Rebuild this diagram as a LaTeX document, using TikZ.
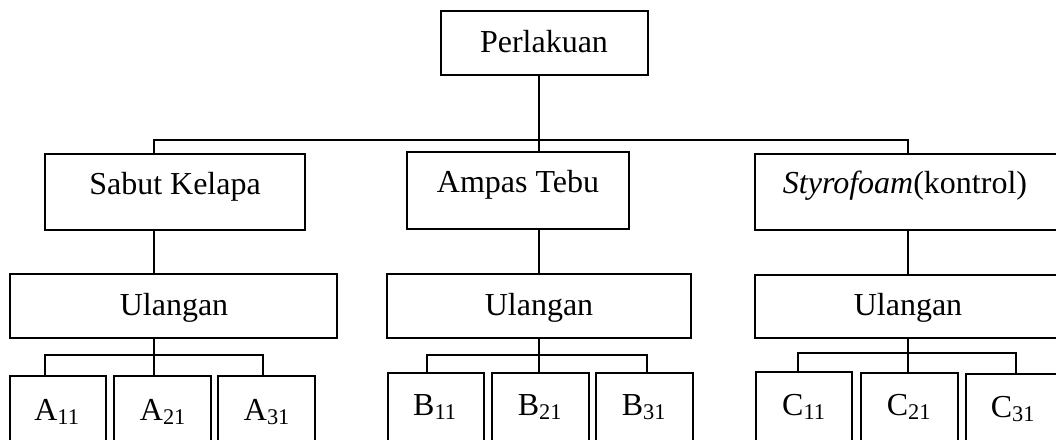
\documentclass[tikz,border=0pt]{standalone}
\usepackage{fontspec}
\setmainfont{Liberation Serif}
\usetikzlibrary{fit}
\begin{document}
\begin{tikzpicture}[x=0.75pt,y=-0.75pt,
  box/.style={draw,line width=1.8pt,inner sep=0pt,outer sep=0pt},
  lbl/.style={anchor=base,inner sep=0pt,font=\fontsize{24pt}{28pt}\selectfont},
  conn/.style={line width=1.2pt}]
\useasboundingbox (0,0) rectangle (1056,439);
\clip (0,0) rectangle (1056,439);
% boxes
\node[box,fit={(441,11) (648,75)}] (P) {};
\node[box,fit={(45,154) (305,230)}] (S) {};
\node[box,fit={(407,152) (629,229)}] (T) {};
\node[box,fit={(755,154) (1062,230)}] (St) {};
\node[box,fit={(10,274) (337,338)}] (UA) {};
\node[box,fit={(387,274) (691,338)}] (UB) {};
\node[box,fit={(755,275) (1062,338)}] (UC) {};
\node[box,fit={(10,376) (106,448)}] (A1) {};
\node[box,fit={(114,376) (211,448)}] (A2) {};
\node[box,fit={(218,376) (315,448)}] (A3) {};
\node[box,fit={(388,373) (484,448)}] (B1) {};
\node[box,fit={(492,373) (589,448)}] (B2) {};
\node[box,fit={(596,373) (693,448)}] (B3) {};
\node[box,fit={(756,372) (852,448)}] (C1) {};
\node[box,fit={(861,373) (958,448)}] (C2) {};
\node[box,fit={(966,374) (1062,448)}] (C3) {};
% texts
\node[lbl] (tP) at (544,52) {Perlakuan};
\node[lbl] (tS) at (175,194) {Sabut Kelapa};
\node[lbl] (tT) at (518,192) {Ampas Tebu};
\node[lbl] (tSt) at (905,193) {\textit{Styrofoam}(kontrol)};
\node[lbl] (tUA) at (174,315) {Ulangan};
\node[lbl] (tUB) at (539,315) {Ulangan};
\node[lbl] (tUC) at (908,315) {Ulangan};
\node[lbl] (tA1) at (57,420) {A\textsubscript{11}};
\node[lbl] (tA2) at (163,420) {A\textsubscript{21}};
\node[lbl] (tA3) at (267,420) {A\textsubscript{31}};
\node[lbl] (tB1) at (435,415) {B\textsubscript{11}};
\node[lbl] (tB2) at (540,415) {B\textsubscript{21}};
\node[lbl] (tB3) at (644,415) {B\textsubscript{31}};
\node[lbl] (tC1) at (804,415) {C\textsubscript{11}};
\node[lbl] (tC2) at (909,415) {C\textsubscript{21}};
\node[lbl] (tC3) at (1013,417) {C\textsubscript{31}};
% junction coordinates
\coordinate (jM) at (539,140);
\coordinate (jL) at (154,140);
\coordinate (jR) at (908,140);
\coordinate (aL) at (45,355);
\coordinate (aR) at (263,355);
\coordinate (bL) at (427,355);
\coordinate (bR) at (647,355);
\coordinate (cL) at (798,353);
\coordinate (cR) at (1016,353);
% connectors level 1
\draw[conn] (jM |- P.south) -- (jM |- T.north);
\draw[conn] (jL |- S.north) -- (jL) -- (jR) -- (jR |- St.north);
% level 2
\draw[conn] (jL |- S.south) -- (jL |- UA.north);
\draw[conn] (jM |- T.south) -- (jM |- UB.north);
\draw[conn] (jR |- St.south) -- (jR |- UC.north);
% level 3
\draw[conn] (jL |- UA.south) -- (jL |- A2.north);
\draw[conn] (aL |- A1.north) -- (aL) -- (aR) -- (aR |- A3.north);
\draw[conn] (jM |- UB.south) -- (jM |- B2.north);
\draw[conn] (bL |- B1.north) -- (bL) -- (bR) -- (bR |- B3.north);
\draw[conn] (jR |- UC.south) -- (jR |- C2.north);
\draw[conn] (cL |- C1.north) -- (cL) -- (cR) -- (cR |- C3.north);
\end{tikzpicture}
\end{document}
